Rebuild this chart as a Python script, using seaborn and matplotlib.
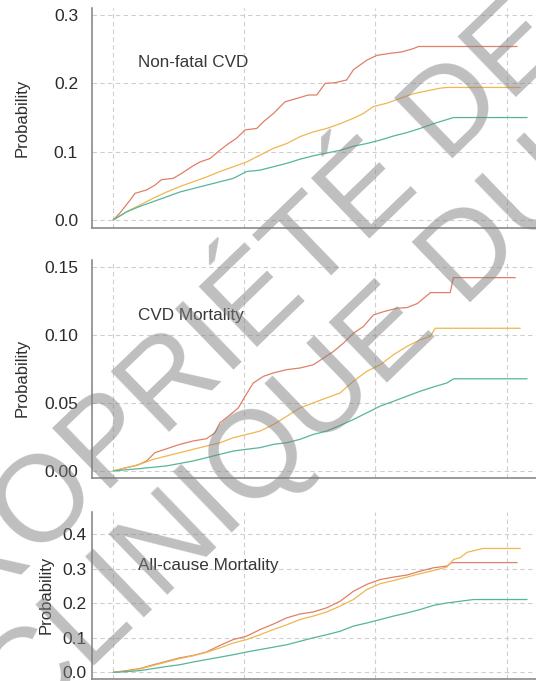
import pandas as pd
import seaborn as sns
import matplotlib.pyplot as plt

sns.set_style('white')
plt.rcParams['font.family'] = ['Liberation Sans', 'DejaVu Sans']

groups = ['Group A', 'Group B', 'Group C']
colours = ['#df8068', '#f0b650', '#55b59c']

# Non-fatal CVD
nf_a_t = [0, 0.25, 0.64, 0.83, 1.27, 1.59, 1.84, 2.29, 2.6, 2.99, 3.31, 3.69, 4.0, 4.33, 4.71, 5.03, 5.47,
          5.73, 6.11, 6.55, 7.0, 7.44, 7.76, 8.08, 8.46, 8.9, 9.16, 9.67, 10.05, 10.56, 11.0, 11.45, 11.64, 15.4]
nf_a_p = [0, 0.01, 0.029, 0.039, 0.044, 0.051, 0.059, 0.061, 0.068, 0.078, 0.085, 0.09, 0.1, 0.11, 0.12, 0.132,
          0.134, 0.144, 0.156, 0.173, 0.178, 0.183, 0.183, 0.2, 0.201, 0.205, 0.22, 0.234, 0.241, 0.244, 0.246,
          0.251, 0.254, 0.254]
nf_b_t = [0, 0.51, 1.02, 1.53, 2.04, 2.54, 3.05, 3.56, 4.07, 4.58, 5.09, 5.6, 6.11, 6.62, 7.12, 7.63, 8.14,
          8.65, 9.16, 9.54, 9.92, 10.43, 10.94, 11.45, 11.96, 12.47, 12.72, 15.52]
nf_b_p = [0, 0.012, 0.022, 0.032, 0.041, 0.049, 0.056, 0.063, 0.071, 0.078, 0.085, 0.095, 0.105, 0.112, 0.122,
          0.129, 0.134, 0.141, 0.149, 0.156, 0.166, 0.171, 0.178, 0.185, 0.189, 0.193, 0.194, 0.194]
nf_c_t = [0, 0.51, 1.02, 1.53, 2.04, 2.54, 3.05, 3.56, 4.07, 4.58, 5.09, 5.6, 6.11, 6.62, 7.12, 7.63, 8.14,
          8.65, 9.16, 9.67, 10.18, 10.69, 11.2, 11.7, 12.21, 12.72, 12.98, 15.78]
nf_c_p = [0, 0.012, 0.02, 0.027, 0.034, 0.041, 0.046, 0.051, 0.056, 0.061, 0.071, 0.073, 0.078, 0.083, 0.089,
          0.094, 0.098, 0.102, 0.108, 0.112, 0.117, 0.123, 0.128, 0.134, 0.141, 0.147, 0.15, 0.15]

# CVD mortality
cv_a_t = [0, 0.51, 0.89, 1.27, 1.59, 2.04, 2.54, 3.05, 3.56, 3.88, 4.07, 4.39, 4.77, 5.03, 5.34, 5.73, 6.11,
          6.62, 7.12, 7.63, 8.02, 8.4, 8.78, 9.16, 9.54, 9.92, 10.31, 10.81, 11.2, 11.6, 11.97, 12.1, 12.85,
          12.97, 15.33]
cv_a_p = [0, 0.0024, 0.004, 0.0073, 0.0134, 0.0163, 0.0195, 0.022, 0.0237, 0.028, 0.0354, 0.0402, 0.0463,
          0.0549, 0.0646, 0.0695, 0.072, 0.0744, 0.0756, 0.078, 0.0829, 0.0878, 0.0939, 0.1012, 0.1061, 0.1146,
          0.117, 0.1195, 0.12, 0.123, 0.129, 0.131, 0.131, 0.142, 0.142]
cv_b_t = [0, 0.51, 1.02, 1.53, 2.04, 2.54, 3.05, 3.56, 4.07, 4.58, 5.09, 5.6, 6.11, 6.62, 7.12, 7.63, 8.14,
          8.65, 9.16, 9.67, 10.18, 10.69, 11.2, 11.7, 12.09, 12.28, 15.52]
cv_b_p = [0, 0.0024, 0.0049, 0.0085, 0.011, 0.0134, 0.0159, 0.0183, 0.0207, 0.0244, 0.0268, 0.0293, 0.0341,
          0.0402, 0.0463, 0.05, 0.0537, 0.0573, 0.0659, 0.0732, 0.078, 0.0854, 0.0915, 0.0963, 0.0988, 0.1048,
          0.1048]
cv_c_t = [0, 1.02, 2.04, 3.05, 4.07, 4.58, 5.09, 5.6, 6.11, 6.62, 7.12, 7.63, 8.14, 8.65, 9.16, 9.67, 10.18,
          10.69, 11.2, 11.7, 12.21, 12.72, 12.98, 15.78]
cv_c_p = [0, 0.0017, 0.0037, 0.0073, 0.0122, 0.0146, 0.0159, 0.0171, 0.0195, 0.0207, 0.0232, 0.0268, 0.0293,
          0.0334, 0.0378, 0.0427, 0.0476, 0.0512, 0.0549, 0.0585, 0.0617, 0.0646, 0.0677, 0.0677]

# All-cause mortality
ac_a_t = [0, 0.51, 1.02, 1.53, 2.04, 2.54, 3.05, 3.56, 4.07, 4.58, 5.09, 5.6, 6.11, 6.62, 7.12, 7.63, 8.14,
          8.65, 9.16, 9.67, 10.18, 10.69, 11.2, 11.7, 12.21, 12.72, 12.91, 15.4]
ac_a_p = [0, 0.005, 0.011, 0.022, 0.032, 0.042, 0.049, 0.059, 0.078, 0.095, 0.105, 0.124, 0.14, 0.158, 0.169,
          0.175, 0.187, 0.206, 0.235, 0.255, 0.269, 0.276, 0.282, 0.293, 0.303, 0.308, 0.318, 0.318]
ac_b_t = [0, 0.51, 1.02, 1.53, 2.04, 2.54, 3.05, 3.56, 4.07, 4.58, 5.09, 5.6, 6.11, 6.62, 7.12, 7.63, 8.14,
          8.65, 9.16, 9.67, 10.18, 10.69, 11.2, 11.7, 12.21, 12.72, 12.98, 13.24, 13.5, 14.1, 15.52]
ac_b_p = [0, 0.003, 0.01, 0.02, 0.03, 0.04, 0.048, 0.058, 0.071, 0.085, 0.095, 0.109, 0.124, 0.138, 0.153,
          0.163, 0.175, 0.192, 0.211, 0.24, 0.257, 0.266, 0.276, 0.286, 0.295, 0.305, 0.327, 0.333, 0.348,
          0.359, 0.359]
ac_c_t = [0, 0.51, 1.02, 1.53, 2.04, 2.54, 3.05, 3.56, 4.07, 4.58, 5.09, 5.6, 6.11, 6.62, 7.12, 7.63, 8.14,
          8.65, 9.16, 9.67, 10.18, 10.69, 11.2, 11.7, 12.21, 12.72, 13.23, 13.74, 15.78]
ac_c_p = [0, 0.002, 0.005, 0.011, 0.017, 0.022, 0.03, 0.037, 0.044, 0.051, 0.059, 0.066, 0.073, 0.08, 0.09,
          0.1, 0.109, 0.119, 0.134, 0.143, 0.153, 0.163, 0.172, 0.182, 0.194, 0.201, 0.206, 0.211, 0.211]

titles = ['Non-fatal CVD', 'CVD Mortality', 'All-cause Mortality']
y_ticks = [[0.0, 0.1, 0.2, 0.3], [0.0, 0.05, 0.1, 0.15], [0.0, 0.1, 0.2, 0.3, 0.4]]
y_tick_labels = [['0.0', '0.1', '0.2', '0.3'], ['0.00', '0.05', '0.10', '0.15'],
                 ['0.0', '0.1', '0.2', '0.3', '0.4']]
x_ticks = [0, 5, 10, 15]


def long_table(series):
    parts = []
    for g, (t, p) in zip(groups, series):
        parts.append(pd.DataFrame({'time': t, 'prob': p, 'group': g}))
    return pd.concat(parts, ignore_index=True)


panels = [
    long_table([(nf_a_t, nf_a_p), (nf_b_t, nf_b_p), (nf_c_t, nf_c_p)]),
    long_table([(cv_a_t, cv_a_p), (cv_b_t, cv_b_p), (cv_c_t, cv_c_p)]),
    long_table([(ac_a_t, ac_a_p), (ac_b_t, ac_b_p), (ac_c_t, ac_c_p)]),
]

fig = plt.figure(figsize=(5.36, 6.81), dpi=100)

# axes boxes in figure fractions, y limits, tick pad, label x, title y
boxes = [[0.1716, 0.6652, 0.8284, 0.3231],
         [0.1716, 0.2977, 0.8284, 0.3206],
         [0.1716, 0.0029, 0.8284, 0.2457]]
ylims = [(-0.0117, 0.3104), (-0.0054, 0.155), (-0.0194, 0.4655)]
pads = [10, 10, 3.6]
label_x = [-0.14, -0.14, -0.086]
label_y = [0.5, 0.46, 0.5]
title_y = [0.231, 0.1144, 0.311]

for i, df in enumerate(panels):
    ax = fig.add_axes(boxes[i])
    sns.lineplot(data=df, x='time', y='prob', hue='group', palette=colours,
                 estimator=None, sort=False, linewidth=0.9, legend=False, ax=ax)
    ax.set_xlim(-0.81, 16.12)
    ax.set_ylim(*ylims[i])
    ax.set_xticks(x_ticks)
    ax.set_xticklabels([])
    ax.set_yticks(y_ticks[i])
    ax.set_yticklabels(y_tick_labels[i])
    ax.set_xlabel('')
    ax.set_ylabel('Probability', fontsize=12, color='#2e2e2e')
    ax.yaxis.set_label_coords(label_x[i], label_y[i])
    ax.tick_params(length=0, pad=pads[i], labelsize=12.5, labelcolor='#2a2a2a')
    ax.grid(True, color='#cfcfcf', linestyle=(0, (4, 3)), linewidth=0.8)
    for side in ['top', 'right']:
        ax.spines[side].set_visible(False)
    for side in ['left', 'bottom']:
        ax.spines[side].set_color('#8a8a8a')
        ax.spines[side].set_linewidth(1.2)
    ax.text(0.95, title_y[i], titles[i], ha='left', va='center', fontsize=12.3, color='#383838')

# watermark over the figure
fig.text(241 / 536, 1 - 363 / 681, 'PROPRIÉTÉ DE', rotation=44, ha='center', va='baseline',
         rotation_mode='anchor', fontsize=88, color='#808080', alpha=0.5, zorder=10)
fig.text(307 / 536, 1 - 460 / 681, 'CLINIQUE DU', rotation=44, ha='center', va='baseline',
         rotation_mode='anchor', fontsize=88, color='#808080', alpha=0.5, zorder=10)

fig.savefig('out.png', dpi=100)
